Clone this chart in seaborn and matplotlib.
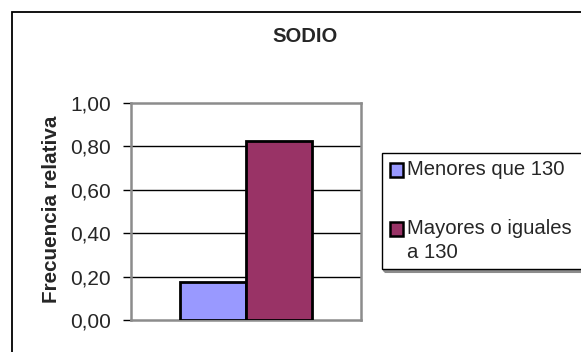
import matplotlib
matplotlib.use("Agg")
import matplotlib.pyplot as plt
from matplotlib.patches import Rectangle
import seaborn as sns
import pandas as pd

# Relative frequency of sodium levels
categorias = ["Menores que 130", "Mayores o iguales\na 130"]
frecuencias = [0.175, 0.825]
colores = ["#9999FF", "#993366"]
ticks_y = [0.0, 0.2, 0.4, 0.6, 0.8, 1.0]
titulo = "SODIO"
etiqueta_y = "Frecuencia relativa"

sns.set_theme(style="white")
plt.rcParams["font.family"] = ["Liberation Sans", "DejaVu Sans"]

W, H = 581, 352
fig = plt.figure(figsize=(W / 100, H / 100), dpi=100)
fig.patch.set_facecolor("white")

def fx(px):
    return px / W

def fy(py):
    return 1 - py / H

# chart-area frame
fig.patches.append(Rectangle((fx(12), fy(400)), fx(700), fy(12) - fy(400),
                             transform=fig.transFigure, fill=False,
                             edgecolor="black", linewidth=1.3, zorder=0))

L, R, T, B = 131, 361, 103, 320
ax = fig.add_axes([fx(L), fy(B), fx(R) - fx(L), fy(T) - fy(B)])

df = pd.DataFrame({"grupo": ["SODIO"] * len(categorias),
                   "categoria": categorias,
                   "valor": frecuencias})
sns.barplot(data=df, x="grupo", y="valor", hue="categoria",
            hue_order=categorias, palette=colores, width=0.578,
            edgecolor="black", linewidth=2.0, saturation=1.0,
            legend=False, ax=ax, zorder=3)

ax.set_xlim(-0.5, 0.5)
ax.set_ylim(0, 1.0)
ax.set_yticks(ticks_y)
ax.set_yticklabels([f"{t:.2f}".replace(".", ",") for t in ticks_y], fontsize=15.0)
ax.set_xticks([])
ax.set_xlabel("")
ax.set_ylabel(etiqueta_y, fontsize=14.9, fontweight="bold")
ax.yaxis.set_label_coords((52 - L) / (R - L), (B - 209) / (B - T))
ax.yaxis.label.set_va("center")

for t in ticks_y[1:-1]:
    ax.axhline(t, color="black", linewidth=1.0, zorder=1)

for side in ["top", "right", "bottom", "left"]:
    ax.spines[side].set_visible(True)
    ax.spines[side].set_color("#8c8c8c")
    ax.spines[side].set_linewidth(1.8)

ax.tick_params(axis="y", which="major", direction="out", length=5.5, width=1,
               color="black", pad=9, left=True)
ax.set_facecolor("white")

fig.text(fx(305), fy(37), titulo, ha="center", va="center",
         fontsize=14.6, fontweight="bold")

# legend box with a shadow
fig.patches.append(Rectangle((fx(383.5), fy(270.5)), fx(700) - fx(383.5), fy(154.5) - fy(270.5),
                             transform=fig.transFigure, fill=False,
                             edgecolor="#8c8c8c", linewidth=2.2, zorder=1))
fig.patches.append(Rectangle((fx(382), fy(269)), fx(700) - fx(382), fy(153) - fy(269),
                             transform=fig.transFigure, fill=True, facecolor="white",
                             edgecolor="black", linewidth=1.0, zorder=1))
entradas = [(170, categorias[0], colores[0]), (229, categorias[1], colores[1])]
for yc, texto, color in entradas:
    fig.patches.append(Rectangle((fx(390), fy(yc + 6.5)), fx(13), fy(yc - 6.5) - fy(yc + 6.5),
                                 transform=fig.transFigure, facecolor=color,
                                 edgecolor="black", linewidth=1.8, zorder=2))
    fig.text(fx(407), fy(yc - 10), texto, ha="left", va="top",
             fontsize=14.6, linespacing=1.32, zorder=3)

fig.savefig("out.png", dpi=100)
